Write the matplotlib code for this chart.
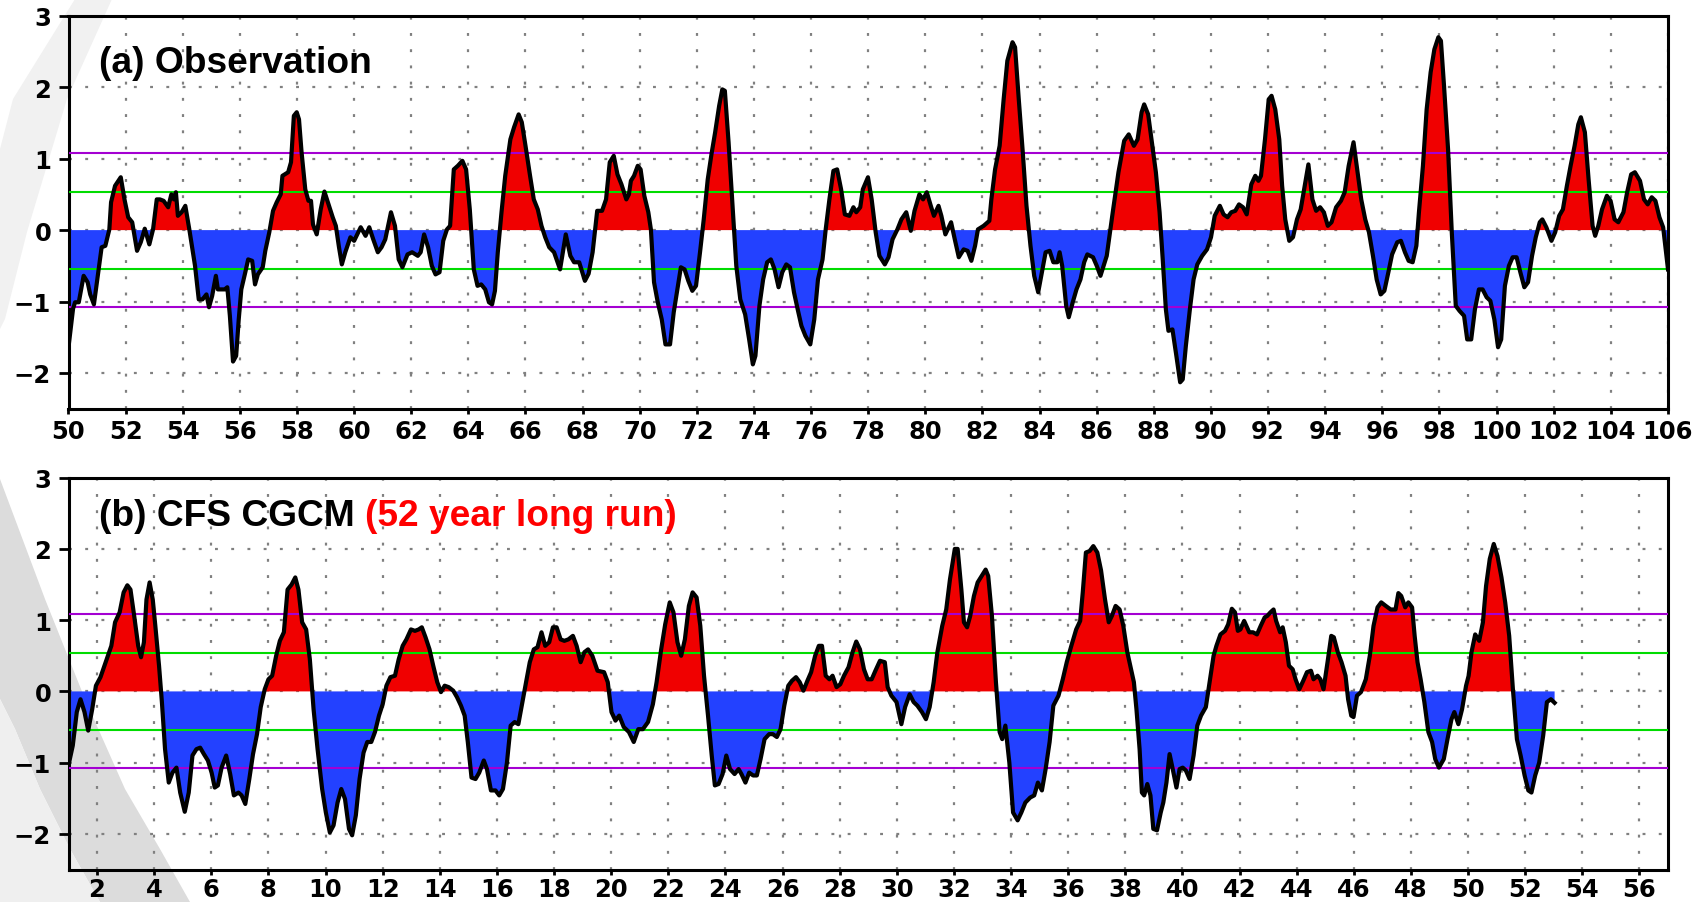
import numpy as np
import matplotlib
matplotlib.use('Agg')
import matplotlib.pyplot as plt
from matplotlib.patches import Polygon

obs_t = [50.0, 50.16, 50.23, 50.36, 50.53, 50.67, 50.76, 50.89, 51.03, 51.16, 51.29, 51.43, 51.49, 51.63, 51.83,
         51.96, 52.09, 52.23, 52.4, 52.53, 52.67, 52.83, 52.96, 53.09, 53.2, 53.33, 53.49, 53.6, 53.69, 53.76,
         53.83, 53.96, 54.09, 54.23, 54.43, 54.56, 54.69, 54.83, 54.92, 55.03, 55.16, 55.23, 55.47, 55.56, 55.65,
         55.76, 55.87, 55.96, 56.05, 56.19, 56.29, 56.43, 56.53, 56.63, 56.8, 56.89, 57.03, 57.16, 57.29, 57.43,
         57.49, 57.69, 57.79, 57.89, 57.99, 58.07, 58.16, 58.29, 58.4, 58.49, 58.56, 58.69, 58.83, 58.96, 59.12,
         59.25, 59.36, 59.47, 59.57, 59.69, 59.87, 60.0, 60.23, 60.4, 60.53, 60.67, 60.83, 60.96, 61.09, 61.29,
         61.43, 61.56, 61.69, 61.87, 62.03, 62.23, 62.33, 62.45, 62.59, 62.72, 62.85, 62.99, 63.12, 63.25, 63.36,
         63.49, 63.63, 63.79, 63.92, 64.05, 64.19, 64.32, 64.45, 64.59, 64.72, 64.83, 64.93, 65.03, 65.16, 65.29,
         65.47, 65.6, 65.76, 65.87, 66.0, 66.16, 66.29, 66.43, 66.56, 66.69, 66.83, 67.0, 67.21, 67.41, 67.57,
         67.7, 67.88, 68.08, 68.21, 68.35, 68.51, 68.68, 68.82, 68.95, 69.09, 69.22, 69.36, 69.53, 69.62, 69.69,
         69.8, 69.93, 70.03, 70.16, 70.3, 70.39, 70.5, 70.63, 70.77, 70.9, 71.06, 71.19, 71.3, 71.44, 71.57,
         71.7, 71.84, 71.97, 72.11, 72.24, 72.38, 72.51, 72.64, 72.78, 72.89, 72.98, 73.11, 73.25, 73.38, 73.52,
         73.69, 73.83, 73.96, 74.05, 74.19, 74.32, 74.46, 74.59, 74.72, 74.86, 74.99, 75.13, 75.26, 75.4, 75.53,
         75.66, 75.8, 75.97, 76.11, 76.24, 76.4, 76.51, 76.64, 76.78, 76.91, 77.05, 77.18, 77.34, 77.48, 77.58,
         77.72, 77.81, 77.99, 78.12, 78.26, 78.39, 78.58, 78.71, 78.85, 79.02, 79.16, 79.33, 79.49, 79.62, 79.79,
         79.92, 80.05, 80.19, 80.3, 80.46, 80.56, 80.7, 80.9, 81.03, 81.17, 81.34, 81.48, 81.61, 81.74, 81.84,
         82.04, 82.24, 82.31, 82.44, 82.6, 82.74, 82.87, 83.05, 83.14, 83.27, 83.41, 83.54, 83.68, 83.81, 83.95,
         84.08, 84.21, 84.35, 84.48, 84.62, 84.7, 84.79, 84.93, 85.02, 85.16, 85.29, 85.43, 85.56, 85.67, 85.87,
         86.0, 86.13, 86.35, 86.56, 86.76, 86.96, 87.12, 87.3, 87.43, 87.57, 87.66, 87.8, 87.93, 88.07, 88.2,
         88.31, 88.42, 88.51, 88.65, 88.78, 88.92, 89.01, 89.12, 89.26, 89.39, 89.52, 89.69, 89.86, 90.0, 90.13,
         90.31, 90.44, 90.58, 90.71, 90.85, 90.98, 91.12, 91.25, 91.41, 91.55, 91.66, 91.75, 91.89, 92.02, 92.12,
         92.25, 92.39, 92.49, 92.6, 92.74, 92.87, 93.01, 93.14, 93.28, 93.41, 93.55, 93.68, 93.82, 93.95, 94.09,
         94.22, 94.38, 94.55, 94.68, 94.82, 94.99, 95.13, 95.26, 95.4, 95.53, 95.67, 95.8, 95.94, 96.07, 96.21,
         96.34, 96.52, 96.65, 96.79, 96.92, 97.06, 97.19, 97.28, 97.42, 97.55, 97.69, 97.82, 97.96, 98.05, 98.16,
         98.3, 98.43, 98.57, 98.7, 98.86, 98.97, 99.11, 99.24, 99.38, 99.51, 99.65, 99.78, 99.92, 100.05, 100.16,
         100.29, 100.43, 100.56, 100.7, 100.83, 100.97, 101.1, 101.24, 101.37, 101.51, 101.6, 101.74, 101.92, 102.05, 102.19,
         102.32, 102.46, 102.59, 102.73, 102.86, 102.95, 103.09, 103.22, 103.36, 103.45, 103.56, 103.69, 103.86, 103.99, 104.13,
         104.26, 104.44, 104.57, 104.71, 104.84, 105.02, 105.16, 105.29, 105.43, 105.56, 105.7, 105.83, 106.0]
obs_v = [-1.64, -1.1, -1.01, -1.01, -0.64, -0.73, -0.9, -1.04, -0.62, -0.24, -0.22, 0.01, 0.39, 0.62, 0.74,
         0.43, 0.18, 0.11, -0.29, -0.17, 0.02, -0.2, 0.01, 0.43, 0.43, 0.41, 0.32, 0.5, 0.43, 0.53,
         0.2, 0.25, 0.34, 0.01, -0.5, -0.97, -0.97, -0.9, -1.08, -0.92, -0.64, -0.83, -0.83, -0.8, -1.2,
         -1.84, -1.76, -1.25, -0.83, -0.59, -0.41, -0.43, -0.76, -0.62, -0.52, -0.29, -0.03, 0.27, 0.39, 0.5,
         0.76, 0.81, 0.95, 1.6, 1.65, 1.55, 1.09, 0.57, 0.41, 0.41, 0.08, -0.06, 0.29, 0.54, 0.34,
         0.18, 0.06, -0.24, -0.48, -0.31, -0.1, -0.15, 0.04, -0.08, 0.04, -0.13, -0.31, -0.24, -0.13, 0.25,
         0.06, -0.41, -0.52, -0.34, -0.31, -0.36, -0.31, -0.06, -0.24, -0.5, -0.62, -0.59, -0.15, 0.01, 0.06,
         0.85, 0.9, 0.97, 0.85, 0.29, -0.55, -0.78, -0.76, -0.83, -1.01, -1.04, -0.85, -0.31, 0.25, 0.76,
         1.27, 1.44, 1.62, 1.51, 1.18, 0.76, 0.43, 0.29, 0.06, -0.1, -0.24, -0.31, -0.55, -0.06, -0.36,
         -0.45, -0.45, -0.71, -0.61, -0.31, 0.27, 0.27, 0.43, 0.95, 1.04, 0.78, 0.64, 0.43, 0.5, 0.69,
         0.76, 0.9, 0.85, 0.48, 0.25, 0.01, -0.73, -1.01, -1.25, -1.6, -1.6, -1.15, -0.87, -0.52, -0.55,
         -0.71, -0.85, -0.78, -0.31, 0.15, 0.71, 1.06, 1.37, 1.74, 1.97, 1.95, 1.23, 0.34, -0.5, -0.97,
         -1.18, -1.53, -1.88, -1.76, -1.06, -0.69, -0.45, -0.41, -0.55, -0.8, -0.59, -0.48, -0.52, -0.87, -1.11,
         -1.34, -1.48, -1.6, -1.25, -0.69, -0.41, 0.01, 0.43, 0.83, 0.85, 0.57, 0.22, 0.2, 0.32, 0.25,
         0.32, 0.57, 0.74, 0.43, -0.03, -0.36, -0.48, -0.38, -0.13, 0.01, 0.15, 0.25, -0.01, 0.27, 0.5,
         0.43, 0.53, 0.34, 0.2, 0.34, 0.2, -0.06, 0.11, -0.13, -0.38, -0.27, -0.29, -0.43, -0.22, 0.01,
         0.06, 0.13, 0.43, 0.85, 1.18, 1.83, 2.37, 2.63, 2.56, 1.83, 1.09, 0.34, -0.22, -0.64, -0.87,
         -0.59, -0.31, -0.29, -0.45, -0.45, -0.31, -0.5, -1.06, -1.22, -1.01, -0.83, -0.69, -0.45, -0.34, -0.38,
         -0.5, -0.64, -0.36, 0.25, 0.81, 1.25, 1.34, 1.18, 1.27, 1.65, 1.76, 1.62, 1.23, 0.81, 0.25,
         -0.41, -1.11, -1.41, -1.39, -1.74, -2.13, -2.09, -1.62, -1.11, -0.69, -0.48, -0.36, -0.27, -0.1, 0.2,
         0.34, 0.22, 0.18, 0.25, 0.27, 0.36, 0.32, 0.22, 0.64, 0.76, 0.69, 0.76, 1.27, 1.83, 1.88,
         1.69, 1.27, 0.62, 0.15, -0.15, -0.1, 0.15, 0.29, 0.62, 0.92, 0.43, 0.27, 0.32, 0.25, 0.06,
         0.11, 0.32, 0.41, 0.53, 0.9, 1.23, 0.81, 0.43, 0.15, -0.03, -0.36, -0.69, -0.9, -0.85, -0.59,
         -0.34, -0.17, -0.15, -0.31, -0.43, -0.45, -0.22, 0.25, 0.9, 1.69, 2.21, 2.53, 2.7, 2.65, 2.01,
         1.13, -0.03, -1.06, -1.13, -1.2, -1.53, -1.53, -1.11, -0.83, -0.83, -0.94, -0.99, -1.25, -1.64, -1.53,
         -0.78, -0.5, -0.38, -0.38, -0.59, -0.8, -0.73, -0.36, -0.1, 0.11, 0.15, 0.04, -0.15, -0.03, 0.2,
         0.29, 0.62, 0.9, 1.18, 1.48, 1.58, 1.37, 0.71, 0.06, -0.08, 0.06, 0.29, 0.48, 0.41, 0.15,
         0.11, 0.25, 0.53, 0.78, 0.81, 0.69, 0.43, 0.36, 0.46, 0.41, 0.18, 0.04, -0.55]

# SERIE DEL MODELO CFS (52 AÑOS)
cfs_t = [1.02, 1.15, 1.29, 1.42, 1.56, 1.69, 1.83, 1.96, 2.12, 2.3, 2.5, 2.63, 2.79, 2.93, 3.06,
         3.17, 3.3, 3.44, 3.54, 3.64, 3.73, 3.84, 3.95, 4.04, 4.17, 4.27, 4.38, 4.51, 4.64, 4.78,
         4.91, 5.07, 5.21, 5.34, 5.48, 5.61, 5.74, 5.88, 6.01, 6.12, 6.23, 6.36, 6.52, 6.66, 6.79,
         6.95, 7.06, 7.19, 7.33, 7.46, 7.6, 7.73, 7.87, 8.0, 8.13, 8.27, 8.4, 8.54, 8.67, 8.81,
         8.94, 9.05, 9.18, 9.32, 9.45, 9.58, 9.72, 9.88, 10.01, 10.15, 10.28, 10.42, 10.55, 10.68, 10.82,
         10.93, 11.06, 11.19, 11.33, 11.46, 11.6, 11.73, 11.87, 12.0, 12.13, 12.27, 12.43, 12.56, 12.7, 12.83,
         12.99, 13.13, 13.26, 13.37, 13.5, 13.64, 13.77, 13.91, 14.04, 14.17, 14.31, 14.47, 14.6, 14.74, 14.87,
         14.98, 15.11, 15.25, 15.38, 15.54, 15.65, 15.79, 15.95, 16.08, 16.21, 16.35, 16.48, 16.62, 16.75, 16.89,
         17.02, 17.15, 17.29, 17.42, 17.56, 17.69, 17.83, 17.96, 18.09, 18.23, 18.36, 18.5, 18.66, 18.79, 18.93,
         19.06, 19.19, 19.34, 19.52, 19.75, 19.88, 20.01, 20.15, 20.28, 20.44, 20.62, 20.79, 20.95, 21.11, 21.29,
         21.46, 21.59, 21.75, 21.89, 22.05, 22.18, 22.32, 22.45, 22.58, 22.72, 22.85, 22.99, 23.12, 23.25, 23.39,
         23.52, 23.63, 23.76, 23.9, 24.03, 24.16, 24.32, 24.46, 24.56, 24.7, 24.83, 24.97, 25.1, 25.23, 25.37,
         25.53, 25.66, 25.8, 25.93, 26.06, 26.2, 26.33, 26.47, 26.6, 26.73, 26.87, 27.0, 27.14, 27.27, 27.38,
         27.51, 27.64, 27.75, 27.89, 28.02, 28.15, 28.31, 28.45, 28.58, 28.71, 28.85, 28.98, 29.12, 29.25, 29.41,
         29.58, 29.68, 29.81, 29.99, 30.16, 30.29, 30.45, 30.59, 30.72, 30.88, 31.02, 31.15, 31.29, 31.42, 31.59,
         31.73, 31.86, 32.03, 32.13, 32.26, 32.35, 32.46, 32.57, 32.7, 32.83, 32.97, 33.11, 33.2, 33.33, 33.47,
         33.6, 33.69, 33.8, 33.94, 34.07, 34.23, 34.36, 34.5, 34.67, 34.81, 34.94, 35.08, 35.21, 35.35, 35.48,
         35.66, 35.81, 35.95, 36.11, 36.28, 36.42, 36.51, 36.62, 36.75, 36.88, 37.02, 37.15, 37.29, 37.42, 37.53,
         37.66, 37.8, 37.93, 38.07, 38.2, 38.3, 38.39, 38.5, 38.58, 38.66, 38.77, 38.88, 38.98, 39.11, 39.24,
         39.33, 39.44, 39.55, 39.66, 39.79, 39.9, 40.01, 40.12, 40.25, 40.39, 40.52, 40.65, 40.82, 40.95, 41.09,
         41.19, 41.33, 41.49, 41.6, 41.73, 41.84, 41.94, 42.03, 42.16, 42.34, 42.47, 42.61, 42.74, 42.88, 42.97,
         43.08, 43.19, 43.28, 43.42, 43.51, 43.62, 43.73, 43.86, 43.96, 44.09, 44.23, 44.36, 44.5, 44.59, 44.73,
         44.83, 44.94, 45.08, 45.21, 45.3, 45.44, 45.57, 45.71, 45.8, 45.91, 45.99, 46.11, 46.25, 46.42, 46.56,
         46.69, 46.83, 46.96, 47.12, 47.29, 47.46, 47.56, 47.66, 47.8, 47.91, 48.04, 48.13, 48.23, 48.34, 48.47,
         48.61, 48.74, 48.85, 48.98, 49.15, 49.28, 49.42, 49.52, 49.66, 49.79, 49.93, 50.02, 50.12, 50.25, 50.39,
         50.52, 50.63, 50.76, 50.9, 51.03, 51.17, 51.3, 51.44, 51.57, 51.71, 51.84, 51.98, 52.11, 52.22, 52.35,
         52.49, 52.63, 52.76, 52.9, 53.03]
cfs_v = [-1.0, -0.76, -0.29, -0.11, -0.29, -0.55, -0.25, 0.08, 0.2, 0.41, 0.64, 0.97, 1.11, 1.39, 1.49,
         1.43, 1.06, 0.64, 0.48, 0.69, 1.29, 1.53, 1.29, 0.92, 0.36, -0.15, -0.81, -1.28, -1.14, -1.07,
         -1.42, -1.69, -1.42, -0.9, -0.81, -0.79, -0.88, -0.97, -1.14, -1.35, -1.32, -1.07, -0.9, -1.16, -1.46,
         -1.42, -1.46, -1.58, -1.23, -0.88, -0.6, -0.22, 0.03, 0.17, 0.22, 0.5, 0.71, 0.83, 1.43, 1.5,
         1.6, 1.43, 0.97, 0.87, 0.45, -0.25, -0.81, -1.37, -1.7, -1.98, -1.88, -1.56, -1.37, -1.51, -1.93,
         -2.02, -1.74, -1.23, -0.86, -0.71, -0.71, -0.57, -0.34, -0.18, 0.08, 0.2, 0.22, 0.45, 0.64, 0.73,
         0.87, 0.85, 0.87, 0.9, 0.76, 0.59, 0.36, 0.13, -0.01, 0.08, 0.06, 0.01, -0.08, -0.2, -0.34,
         -0.71, -1.21, -1.23, -1.14, -0.97, -1.09, -1.39, -1.39, -1.46, -1.37, -1.0, -0.48, -0.43, -0.46, -0.15,
         0.13, 0.41, 0.59, 0.62, 0.83, 0.64, 0.69, 0.9, 0.9, 0.73, 0.71, 0.73, 0.78, 0.64, 0.41,
         0.55, 0.59, 0.5, 0.29, 0.27, 0.13, -0.29, -0.41, -0.34, -0.5, -0.57, -0.71, -0.53, -0.53, -0.43,
         -0.18, 0.13, 0.59, 0.94, 1.25, 1.11, 0.69, 0.5, 0.73, 1.2, 1.39, 1.32, 0.92, 0.22, -0.34,
         -0.9, -1.32, -1.3, -1.16, -0.9, -1.09, -1.16, -1.09, -1.16, -1.28, -1.14, -1.18, -1.18, -0.95, -0.67,
         -0.6, -0.6, -0.64, -0.53, -0.2, 0.08, 0.15, 0.2, 0.13, 0.01, 0.15, 0.27, 0.5, 0.64, 0.64,
         0.22, 0.17, 0.22, 0.06, 0.1, 0.22, 0.34, 0.55, 0.7, 0.59, 0.31, 0.17, 0.17, 0.29, 0.43,
         0.41, 0.06, -0.06, -0.15, -0.46, -0.22, -0.04, -0.15, -0.2, -0.29, -0.39, -0.22, 0.13, 0.55, 0.92,
         1.15, 1.57, 2.0, 2.0, 1.43, 0.97, 0.9, 1.06, 1.34, 1.53, 1.62, 1.71, 1.62, 1.06, 0.13,
         -0.57, -0.67, -0.48, -1.0, -1.7, -1.81, -1.7, -1.56, -1.49, -1.46, -1.28, -1.39, -1.09, -0.71, -0.2,
         -0.06, 0.17, 0.41, 0.64, 0.87, 0.99, 1.39, 1.95, 1.97, 2.04, 1.95, 1.7, 1.29, 0.97, 1.06,
         1.2, 1.15, 0.92, 0.55, 0.31, 0.13, -0.25, -0.81, -1.42, -1.46, -1.3, -1.46, -1.93, -1.95, -1.7,
         -1.56, -1.28, -0.88, -1.09, -1.35, -1.09, -1.07, -1.11, -1.23, -0.9, -0.48, -0.34, -0.22, 0.13, 0.5,
         0.64, 0.8, 0.85, 0.94, 1.16, 1.11, 0.85, 0.87, 0.99, 0.83, 0.83, 0.8, 0.92, 1.04, 1.06,
         1.11, 1.15, 0.99, 0.83, 0.9, 0.69, 0.36, 0.31, 0.17, 0.03, 0.15, 0.27, 0.29, 0.17, 0.22,
         0.17, 0.03, 0.41, 0.78, 0.76, 0.55, 0.41, 0.22, -0.11, -0.34, -0.36, -0.06, -0.01, 0.17, 0.5,
         0.92, 1.18, 1.25, 1.2, 1.15, 1.15, 1.38, 1.34, 1.18, 1.25, 1.18, 0.78, 0.41, 0.17, -0.15,
         -0.57, -0.71, -0.95, -1.07, -0.95, -0.67, -0.39, -0.29, -0.46, -0.25, 0.08, 0.22, 0.55, 0.8, 0.71,
         0.97, 1.48, 1.86, 2.07, 1.9, 1.6, 1.25, 0.78, 0.03, -0.67, -0.9, -1.18, -1.39, -1.42, -1.18,
         -1.0, -0.62, -0.15, -0.11, -0.16]

obs_xticks = list(range(50, 107, 2))
cfs_xticks = list(range(2, 57, 2))
yticks = [-2, -1, 0, 1, 2, 3]
half_sd = 0.54
one_sd = 1.08

RED = '#f00000'
BLUE = '#2341ff'
PURPLE = '#a400d2'
GREEN = '#00dc00'

W, H = 1704, 903
fig = plt.figure(figsize=(W / 100, H / 100), dpi=100)
fig.patch.set_facecolor('white')


def fig_poly(pts, color):                                    # POLIGONO EN PIXELES DE LA FIGURA (FONDO GRIS)
    xy = [(x / W, 1 - y / H) for x, y in pts]
    p = Polygon(xy, closed=True, transform=fig.transFigure, facecolor=color,
                edgecolor='none', zorder=-5)
    fig.patches.append(p)


fig_poly([(75, 0), (112, 0), (67, 100), (27, 233), (5, 320), (0, 330), (0, 150), (13, 100)], '#f1f1f1')
fig_poly([(0, 480), (45, 600), (85, 700), (125, 790), (160, 850), (190, 903),
          (100, 903), (70, 850), (40, 790), (15, 730), (0, 700)], '#dcdcdc')
fig_poly([(0, 700), (15, 730), (40, 790), (70, 850), (100, 903), (0, 903)], '#efefef')


def panel(rect, t, v, xlim, xticks, xpad):
    ax = fig.add_axes(rect)
    ax.set_facecolor('none')
    t = np.array(t)
    v = np.array(v)
    ax.fill_between(t, v, 0, where=v >= 0, interpolate=True, color=RED, lw=0, zorder=2)
    ax.fill_between(t, v, 0, where=v <= 0, interpolate=True, color=BLUE, lw=0, zorder=2)
    for lev, col in [(one_sd, PURPLE), (-one_sd, PURPLE), (half_sd, GREEN), (-half_sd, GREEN)]:
        ax.axhline(lev, color=col, lw=1.5, zorder=3)
    ax.plot(t, v, color='black', lw=3.0, zorder=4, solid_joinstyle='round')
    ax.set_xlim(xlim)
    ax.set_ylim(-2.5, 3)
    ax.set_xticks(xticks)
    ax.set_yticks(yticks)
    ax.grid(True, color='#808080', linestyle=(0, (1.3, 6)), lw=1.6, zorder=1)
    ax.set_axisbelow(True)
    for s in ax.spines.values():
        s.set_linewidth(2.2)
    ax.tick_params(axis='x', length=3.6, width=2, pad=xpad, labelsize=17.5)
    ax.tick_params(axis='y', length=7, width=2, pad=5.5, labelsize=17.5)
    for lab in ax.get_xticklabels() + ax.get_yticklabels():
        lab.set_family('DejaVu Sans')
        lab.set_fontweight('bold')
    return ax


ax1 = panel([68.5 / W, 1 - 409.7 / H, 1599.5 / W, 392.9 / H], obs_t, obs_v, (50, 106), obs_xticks, 4)
ax2 = panel([68.5 / W, 1 - 870.5 / H, 1599.5 / W, 391.8 / H], cfs_t, cfs_v, (1, 57), cfs_xticks, 2)

ax1.text(0.019, 0.882, '(a) Observation', transform=ax1.transAxes, fontsize=26.7,
         fontweight='bold', family='Liberation Sans', va='center', ha='left', zorder=6)
tb = ax2.text(0.019, 0.903, '(b) CFS CGCM ', transform=ax2.transAxes, fontsize=26.7,
              fontweight='bold', family='Liberation Sans', va='center', ha='left', zorder=6)
ax2.annotate('(52 year long run)', xy=(1, 0.5), xycoords=tb, va='center', ha='left',
             fontsize=26.7, fontweight='bold', family='Liberation Sans', color='#ff0000', zorder=6)

fig.savefig('out.png', dpi=100)
